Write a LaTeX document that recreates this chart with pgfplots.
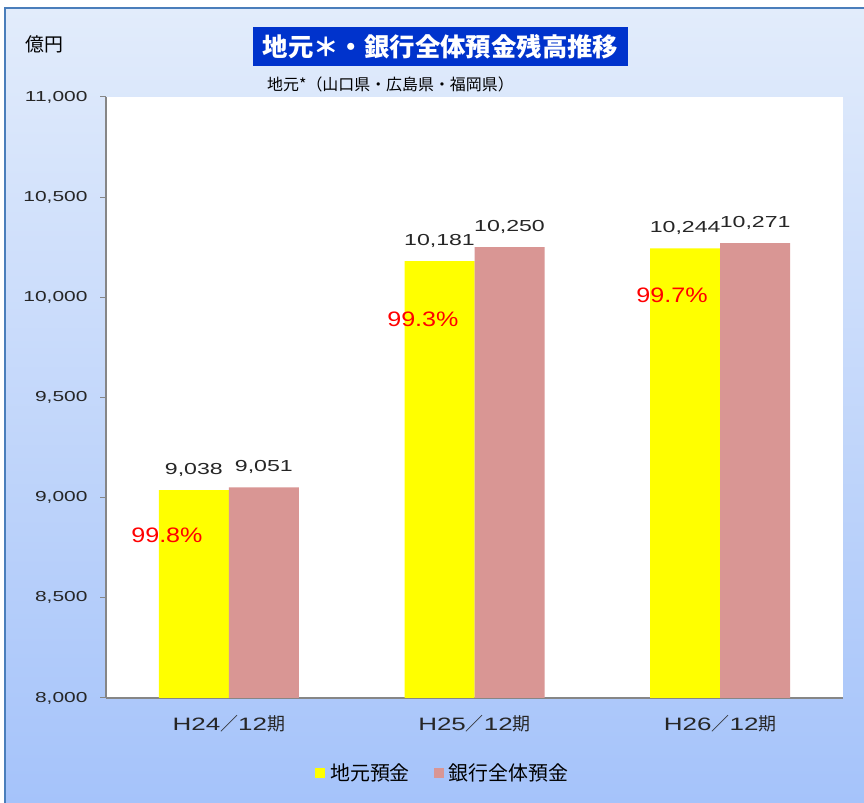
\documentclass[border=0pt]{standalone}
\usepackage{fontspec}
\setmainfont{Noto Sans CJK JP}
\newfontfamily\numfont[FakeStretch=1.45]{Liberation Sans}
\newfontfamily\pctfont[FakeStretch=1.2]{Liberation Sans}
\newcommand\lat[1]{{\numfont #1}}
\usepackage{pgfplots}
\pgfplotsset{compat=1.18}
\definecolor{bgtop}{HTML}{E2ECFB}
\definecolor{bgbot}{HTML}{A5C3FA}
\definecolor{framec}{HTML}{4A7EBB}
\definecolor{ttlblue}{HTML}{0033CC}
\definecolor{baryel}{HTML}{FFFF00}
\definecolor{barpink}{HTML}{D99694}
\definecolor{axgray}{HTML}{868686}
\begin{document}
\begin{tikzpicture}[x=1bp,y=1bp]
\useasboundingbox (0,0) rectangle (864,803);
\fill[white] (0,0) rectangle (864,803);
\shade[top color=bgtop, bottom color=bgbot] (5,0) rectangle (864,795);
\draw[framec, line width=1.2bp] (5,0) -- (5,795) -- (864,795);
\fill[white] (106,105) rectangle (843,706);
% title and labels
\node[fill=ttlblue, text=white, minimum width=375bp, minimum height=39bp, inner sep=0pt,
      font=\fontsize{25.5}{25.5}\selectfont\bfseries] at (440.5,756.5) {地元＊・銀行全体預金残高推移};
\node[anchor=west, inner sep=0pt, font=\fontsize{16}{16}\selectfont] at (267,719) {地元*（山口県・広島県・福岡県）};
\node[anchor=west, inner sep=0pt, font=\fontsize{19}{19}\selectfont] at (25,759) {億円};
\begin{axis}[
  at={(106bp,105bp)}, anchor=south west,
  scale only axis, width=737bp, height=601bp,
  xmin=-0.5, xmax=2.5, ymin=8000, ymax=11000,
  ytick={8000,8500,...,11000},
  scaled y ticks=false,
  axis x line*=bottom, axis y line*=left,
  axis line style={axgray, line width=1.2bp},
  ybar=0pt, bar width=70bp,
  legend image code/.code={\fill[#1] (0bp,-5bp) rectangle (10bp,5bp);},
  xtick={0,1,2},
  xticklabels={{\lat{H24}／\lat{12}期},{\lat{H25}／\lat{12}期},{\lat{H26}／\lat{12}期}},
  xtick style={draw=none},
  extra x ticks={-0.5,0.5,1.5,2.5}, extra x tick labels={},
  extra x tick style={xtick style={axgray, line width=1bp}},
  tick align=outside, major tick length=6bp,
  ytick style={axgray, line width=1bp},
  xticklabel style={font=\fontsize{18}{18}\selectfont, text=black!85, yshift=-8bp},
  yticklabel style={font=\numfont\fontsize{14.5}{14.5}\selectfont, text=black!85, xshift=-9bp},
  yticklabel={\pgfmathprintnumber[fixed,precision=0,1000 sep={,}]{\tick}},
  /pgf/number format/1000 sep={,},
  /pgf/number format/assume math mode=true,
  nodes near coords,
  every node near coord/.append style={font=\numfont\fontsize{16}{16}\selectfont, text=black!85, anchor=base, yshift=16bp},
  clip=false,
  legend style={at={(0.457,-0.125)}, anchor=center, draw=none, fill=none,
    legend columns=2, font=\fontsize{20}{20}\selectfont,
    /tikz/every odd column/.append style={column sep=3bp},
    /tikz/every even column/.append style={column sep=22bp}},
]
\addplot[fill=baryel, draw=none] coordinates {(0,9038) (1,10181) (2,10244)};
\addplot[fill=barpink, draw=none] coordinates {(0,9051) (1,10250) (2,10271)};
\legend{地元預金,銀行全体預金}
\node[anchor=base, text=red, font=\pctfont\fontsize{21}{21}\selectfont] at (axis cs:-0.252,8774) {99.8\%};
\node[anchor=base, text=red, font=\pctfont\fontsize{21}{21}\selectfont] at (axis cs:0.79,9852) {99.3\%};
\node[anchor=base, text=red, font=\pctfont\fontsize{21}{21}\selectfont] at (axis cs:1.804,9972) {99.7\%};
\end{axis}
\end{tikzpicture}
\end{document}
